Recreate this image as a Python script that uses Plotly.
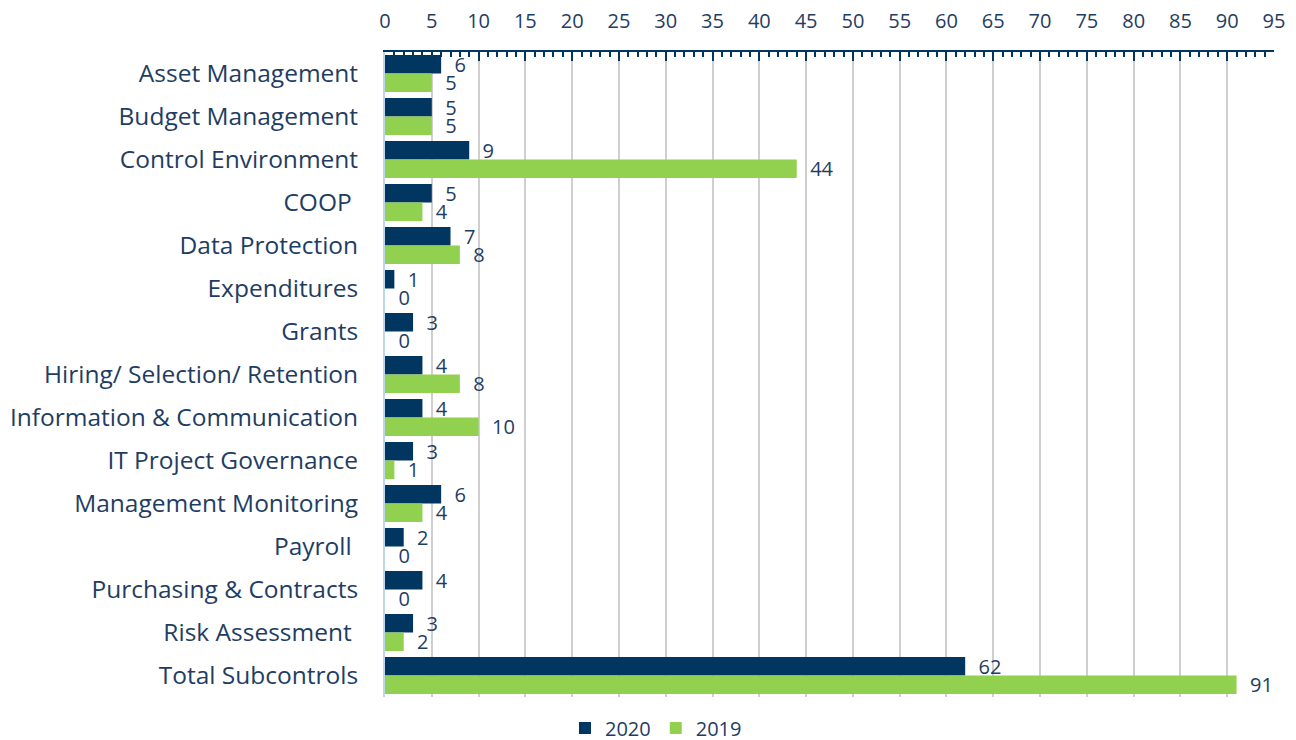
import plotly.graph_objects as go

categories = ["Asset Management", "Budget Management", "Control Environment", "COOP ",
              "Data Protection", "Expenditures", "Grants", "Hiring/ Selection/ Retention",
              "Information & Communication", "IT Project Governance", "Management Monitoring",
              "Payroll ", "Purchasing & Contracts", "Risk Assessment ", "Total Subcontrols"]
values_2020 = [6, 5, 9, 5, 7, 1, 3, 4, 4, 3, 6, 2, 4, 3, 62]
values_2019 = [5, 5, 44, 4, 8, 0, 0, 8, 10, 1, 4, 0, 0, 2, 91]

navy = "#003660"
green = "#92D050"
text_color = "#1F3D63"
font_family = "'Open Sans', Lato, sans-serif"

fig = go.Figure()
for name, vals, col in [("2020", values_2020, navy), ("2019", values_2019, green)]:
    fig.add_trace(go.Bar(name=name, y=categories, x=vals, orientation="h",
                         marker=dict(color=col, line=dict(width=0)),
                         text=vals, texttemplate="  %{x}", textposition="outside",
                         constraintext="none",
                         textfont=dict(color=text_color, size=20, family=font_family),
                         cliponaxis=False))

fig.update_layout(
    width=1296, height=740,
    paper_bgcolor="white", plot_bgcolor="white",
    barmode="group", bargap=0.14, bargroupgap=0.0,
    margin=dict(l=377, r=30, t=44, b=51),
    font=dict(family=font_family, color=text_color, size=21),
    showlegend=True,
    legend=dict(orientation="h", x=0.5, xanchor="center", xref="container",
                y=0.027, yanchor="middle", yref="container",
                font=dict(size=20, color=text_color), traceorder="normal"),
    xaxis=dict(side="top", range=[0, 95], dtick=5, tick0=0, automargin=False,
               showgrid=True, gridcolor="#D0CECE", gridwidth=2,
               showline=True, linecolor=navy, linewidth=2,
               ticks="inside", ticklen=9, tickwidth=2, tickcolor=navy,
               minor=dict(dtick=1, ticks="inside", ticklen=5, tickwidth=1.5, tickcolor=navy, showgrid=False),
               ticklabelstandoff=14,
               tickfont=dict(size=20, color=text_color), zeroline=False, fixedrange=True),
    yaxis=dict(autorange="reversed", showline=True, linecolor="#BDD7EE", linewidth=2,
               automargin=False,
               ticks="", ticklabelstandoff=20, tickfont=dict(size=24.5, color=text_color),
               showgrid=False),
)

fig.write_html("out.html")
